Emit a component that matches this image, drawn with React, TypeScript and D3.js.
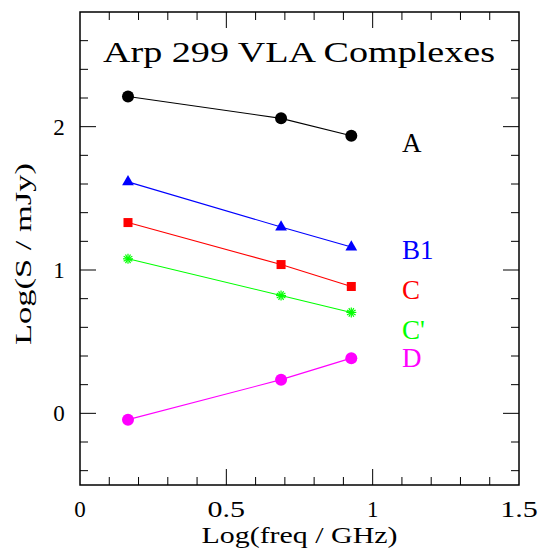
import React from 'react';
import * as d3 from 'd3';

// log(frequency / GHz) for the three VLA bands
const freqs = [0.164, 0.687, 0.927];

const seriesNames = ['A', 'B1', 'C', "C'", 'D'];
const valuesA = [2.21, 2.058, 1.937];
const valuesB1 = [1.615, 1.3, 1.16];
const valuesC = [1.331, 1.038, 0.885];
const valuesCp = [1.078, 0.822, 0.704];
const valuesD = [-0.044, 0.235, 0.385];

// label anchor (data coords)
const labelX = 1.1;
const labelY = [1.82, 1.08, 0.8, 0.52, 0.32];

const xTickLabels = ['0', '0.5', '1', '1.5'];
const yTickLabels = ['0', '1', '2'];

const W = 540, H = 557;
const margin = { left: 80, right: 21, top: 12, bottom: 72 };
const FONT = '"Liberation Serif", "DejaVu Serif", serif';

const App: React.FC = () => {
  const x = d3.scaleLinear().domain([0, 1.5]).range([margin.left, W - margin.right]);
  const y = d3.scaleLinear().domain([-0.5, 2.8]).range([H - margin.bottom, margin.top]);

  const series = [
    { name: seriesNames[0], vals: valuesA, color: '#000000', mark: 'circle' },
    { name: seriesNames[1], vals: valuesB1, color: '#0000ff', mark: 'triangle' },
    { name: seriesNames[2], vals: valuesC, color: '#ff0000', mark: 'square' },
    { name: seriesNames[3], vals: valuesCp, color: '#00ff00', mark: 'star' },
    { name: seriesNames[4], vals: valuesD, color: '#ff00ff', mark: 'circle' },
  ];

  const line = d3.line<number>().x((_, i) => x(freqs[i])).y(d => y(d));

  const x0 = x.range()[0], x1 = x.range()[1];
  const y0 = y.range()[0], y1 = y.range()[1];

  const xMinor = d3.range(0.1, 1.5, 0.1).filter(v => Math.abs(v * 2 - Math.round(v * 2)) > 1e-6);
  const xMajor = [0.5, 1];
  const yMinor = d3.range(-0.4, 2.8, 0.2).filter(v => Math.abs(v - Math.round(v)) > 1e-6);
  const yMajor = [0, 1, 2];

  const drawMark = (mark: string, cx: number, cy: number, color: string, key: string) => {
    if (mark === 'circle') return <circle key={key} cx={cx} cy={cy} r={6} fill={color} />;
    if (mark === 'square') return <rect key={key} x={cx - 4.5} y={cy - 4.5} width={9} height={9} fill={color} />;
    if (mark === 'triangle') {
      const tri = d3.symbol(d3.symbolTriangle, 60)();
      return <path key={key} d={tri || ''} transform={`translate(${cx},${cy})`} fill={color} />;
    }
    const arms = d3.range(0, 180, 30);
    return (
      <g key={key} transform={`translate(${cx},${cy})`} stroke={color} strokeWidth={1.2}>
        {arms.map(a => {
          const r = (a * Math.PI) / 180;
          return <line key={a} x1={-5 * Math.cos(r)} y1={-5 * Math.sin(r)} x2={5 * Math.cos(r)} y2={5 * Math.sin(r)} />;
        })}
      </g>
    );
  };

  // PGPLOT's Hershey font is wider than Liberation Serif, so stretch longer strings
  const tickLen = (t: string) => (t.length > 1 ? { textLength: t.length * 12.5, lengthAdjust: 'spacingAndGlyphs' } : {});

  return (
    <svg width={W} height={H} style={{ position: 'absolute', left: 0, top: 0, background: '#fff' }} fontFamily={FONT}>
      {/* frame */}
      <rect x={x0} y={y1} width={x1 - x0} height={y0 - y1} fill="none" stroke="#000" strokeWidth={1.5} />

      {/* x ticks, bottom and top */}
      {xMinor.map(v => (
        <g key={'xm' + v} stroke="#000" strokeWidth={1}>
          <line x1={x(v)} x2={x(v)} y1={y0} y2={y0 - 8} />
          <line x1={x(v)} x2={x(v)} y1={y1} y2={y1 + 8} />
        </g>
      ))}
      {xMajor.map(v => (
        <g key={'xM' + v} stroke="#000" strokeWidth={1}>
          <line x1={x(v)} x2={x(v)} y1={y0} y2={y0 - 16} />
          <line x1={x(v)} x2={x(v)} y1={y1} y2={y1 + 16} />
        </g>
      ))}
      {/* y ticks, left and right */}
      {yMinor.map(v => (
        <g key={'ym' + v} stroke="#000" strokeWidth={1}>
          <line x1={x0} x2={x0 + 8} y1={y(v)} y2={y(v)} />
          <line x1={x1} x2={x1 - 8} y1={y(v)} y2={y(v)} />
        </g>
      ))}
      {yMajor.map(v => (
        <g key={'yM' + v} stroke="#000" strokeWidth={1}>
          <line x1={x0} x2={x0 + 16} y1={y(v)} y2={y(v)} />
          <line x1={x1} x2={x1 - 16} y1={y(v)} y2={y(v)} />
        </g>
      ))}

      {/* tick labels */}
      {xTickLabels.map(t => (
        <text key={'xl' + t} x={x(+t)} y={517} textAnchor="middle" fontSize={23} fill="#000" {...tickLen(t)}>{t}</text>
      ))}
      {yTickLabels.map(t => (
        <text key={'yl' + t} x={59} y={y(+t) + 8} textAnchor="middle" fontSize={23} fill="#000">{t}</text>
      ))}

      {/* axis titles */}
      <text x={x(0.75)} y={543} textAnchor="middle" fontSize={23} fill="#000" textLength={196} lengthAdjust="spacingAndGlyphs">Log(freq / GHz)</text>
      <text transform={`translate(31,${254}) rotate(-90)`} textAnchor="middle" fontSize={23} fill="#000" textLength={182} lengthAdjust="spacingAndGlyphs">Log(S / mJy)</text>

      {/* title */}
      <text x={103} y={62} fontSize={30} fill="#000" textLength={392} lengthAdjust="spacingAndGlyphs">Arp 299 VLA Complexes</text>

      {/* series */}
      {series.map(s => (
        <g key={s.name}>
          <path d={line(s.vals) || ''} fill="none" stroke={s.color} strokeWidth={1.1} />
          {s.vals.map((v, i) => drawMark(s.mark, x(freqs[i]), y(v), s.color, s.name + i))}
        </g>
      ))}

      {/* series labels */}
      {series.map((s, i) => (
        <text key={'lab' + s.name} x={x(labelX)} y={y(labelY[i])} fontSize={27} fill={s.color}>{s.name}</text>
      ))}
    </svg>
  );
};

export default App;
